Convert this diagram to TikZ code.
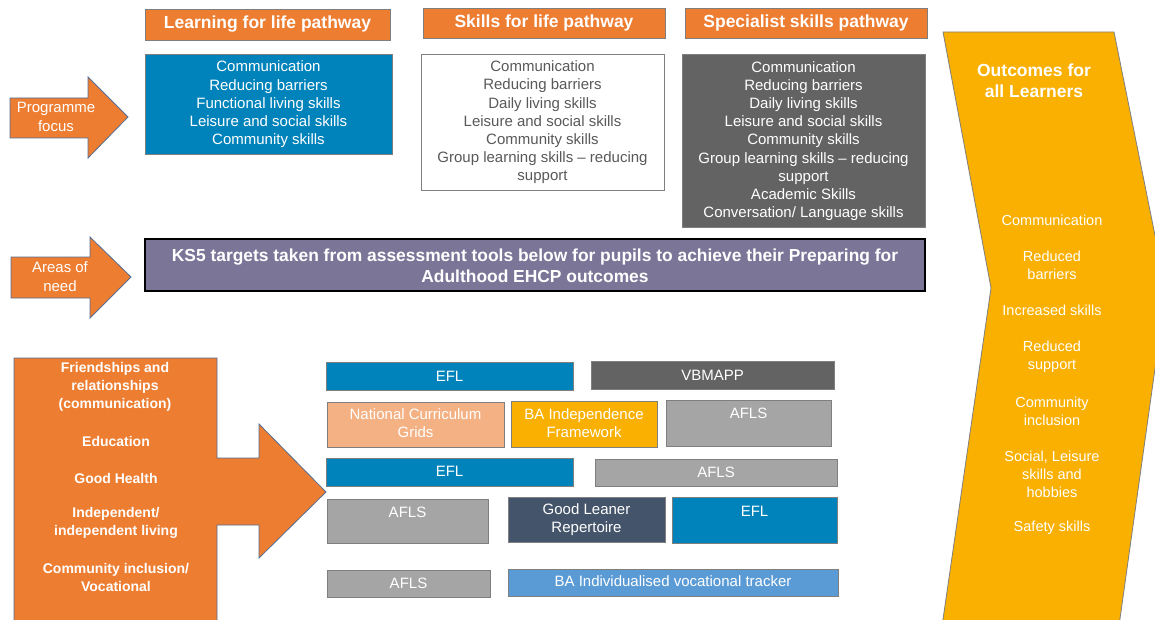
\documentclass[tikz,border=0pt]{standalone}
\usepackage{fontspec}
\setmainfont{Liberation Sans}
\definecolor{corange}{RGB}{237,125,49}
\definecolor{cblue}{RGB}{0,131,186}
\definecolor{cdgray}{RGB}{99,99,99}
\definecolor{cgray}{RGB}{165,165,165}
\definecolor{cpurple}{RGB}{123,118,152}
\definecolor{clorange}{RGB}{244,177,131}
\definecolor{camber}{RGB}{249,176,0}
\definecolor{cnavy}{RGB}{68,84,106}
\definecolor{clblue}{RGB}{91,155,213}
\definecolor{cborder}{RGB}{127,127,127}
\definecolor{carrowline}{RGB}{84,110,150}
\definecolor{ctextgray}{RGB}{89,89,89}
\newcommand\mybox[6]{\node[box,fill=#6,minimum width={#4-#2},minimum height={#5-#3}] (#1) at ({(#2+#4)/2},{(#3+#5)/2}) {};}
\begin{document}
\begin{tikzpicture}[x=1pt,y=-1pt,
  box/.style={draw=cborder,line width=0.9pt,inner sep=0pt,rectangle},
  hdr/.style={box,fill=corange,text=white,font=\fontsize{17.5}{21}\selectfont\bfseries},
  t15/.style={text=white,align=center,inner sep=0pt,font=\fontsize{15}{18.2}\selectfont},
  t14b/.style={text=white,align=center,inner sep=0pt,font=\fontsize{14}{18}\selectfont\bfseries},
  t14/.style={text=white,align=center,inner sep=0pt,font=\fontsize{14.5}{18}\selectfont},
  shapeline/.style={draw=carrowline,line width=0.8pt,fill=corange}]
\useasboundingbox (0,0) rectangle (1155,620);

% chevron and big arrow (cut by the page edge)
\begin{scope}
\clip (0,0) rectangle (1155,620);
\draw[draw=cborder,line width=0.8pt,fill=camber] (943,32) -- (1114,32) -- (1166,290) -- (1117,640) -- (940,640) -- (991,288) -- cycle;
\draw[shapeline] (14,358) -- (217,358) -- (217,458) -- (259,458) -- (259,424) -- (326,492) -- (259,558) -- (259,525) -- (217,525) -- (217,640) -- (14,640) -- cycle;
\end{scope}

% left arrows
\draw[shapeline] (10,98) -- (88,98) -- (88,77) -- (128,117) -- (88,158) -- (88,138) -- (10,138) -- cycle;
\draw[shapeline] (11,257) -- (90,257) -- (90,237) -- (131,277) -- (90,318) -- (90,298) -- (11,298) -- cycle;
\node[t15] (pf) at (56,117) {Programme\\[0.8pt]focus};
\node[t15] (an) at (60,276.5) {Areas of\\[0.8pt]need};

% headers
\node[hdr,minimum width=245,minimum height=31] (h1) at (267.5,24.5) {Learning for life pathway};
\node[hdr,minimum width=242,minimum height=30] (h2) at (544,23) {Skills for life pathway};
\node[hdr,minimum width=242,minimum height=30] (h3) at (806,23) {Specialist skills pathway};

% content boxes
\node[box,fill=cblue,minimum width=247,minimum height=100] (c1) at (268.5,104) {};
\node[t15] (c1t) at (268.5,104.5) {Communication\\Reducing barriers\\Functional living skills\\Leisure and social skills\\Community skills};
\node[box,fill=white,minimum width=243,minimum height=136] (c2) at (542.5,122) {};
\node[t15,text=ctextgray] (c2t) at (542.5,122.5) {Communication\\Reducing barriers\\Daily living skills\\Leisure and social skills\\Community skills\\Group learning skills -- reducing\\support};
\node[box,fill=cdgray,minimum width=243,minimum height=173] (c3) at (803.5,140.5) {};
\node[t15] (c3t) at (803.5,141) {Communication\\Reducing barriers\\Daily living skills\\Leisure and social skills\\Community skills\\Group learning skills -- reducing\\support\\Academic Skills\\Conversation/ Language skills};

% purple bar
\node[draw=black,line width=1.3pt,fill=cpurple,minimum width=780,minimum height=52,inner sep=0pt] (ks5) at (535,265) {};
\node[t15,font=\fontsize{17.4}{21}\selectfont\bfseries] (ks5t) at (535,265.5) {KS5 targets taken from assessment tools below for pupils to achieve their Preparing for\\Adulthood EHCP outcomes};

% big arrow texts
\node[t14b] (fr) at (115,386.5) {Friendships and\\relationships\\(communication)};
\node[t14b] (ed) at (116,441) {Education};
\node[t14b] (gh) at (116,478) {Good Health};
\node[t14b] (il) at (116,523) {Independent/\\independent living};
\node[t14b] (ci) at (116,577) {Community inclusion/\\Vocational};

% chevron texts
\node[t15,font=\fontsize{17.5}{21}\selectfont\bfseries] (oc) at (1034,81) {Outcomes for\\all Learners};
\node[t14] (o1) at (1052,220) {Communication};
\node[t14] (o2) at (1052,265) {Reduced\\barriers};
\node[t14] (o3) at (1052,310) {Increased skills};
\node[t14] (o4) at (1052,356.5) {Reduced\\support};
\node[t14] (o5) at (1052,411) {Community\\inclusion};
\node[t14] (o6) at (1052,474.5) {Social, Leisure\\skills and\\hobbies};
\node[t14] (o7) at (1052,528) {Safety skills};

% assessment boxes
\mybox{efla}{326}{362}{573}{390}{cblue}
\node[t15] (eflat) at (efla) {EFL};
\mybox{vbm}{591}{361}{834}{389}{cdgray}
\node[t15] (vbmt) at (vbm) {VBMAPP};
\mybox{ncg}{327}{402}{504}{447}{clorange}
\node[t15] (ncgt) at (415.5,423.5) {National Curriculum\\Grids};
\mybox{bai}{511}{401}{657}{447}{camber}
\node[t15] (bait) at (584,423.5) {BA Independence\\Framework};
\mybox{aflsa}{666}{400}{831}{446}{cgray}
\node[t15] (aflsat) at (748.5,413) {AFLS};
\mybox{eflb}{326}{458}{573}{486}{cblue}
\node[t15] (eflbt) at (449.5,471) {EFL};
\mybox{aflsb}{595}{459}{837}{486}{cgray}
\node[t15] (aflsbt) at (716,472) {AFLS};
\mybox{aflsc}{327}{499}{488}{543}{cgray}
\node[t15] (aflsct) at (407.5,512) {AFLS};
\mybox{glr}{508}{497}{665}{542}{cnavy}
\node[t15] (glrt) at (586.5,519.5) {Good Leaner\\Repertoire};
\mybox{eflc}{672}{497}{837}{543}{cblue}
\node[t15] (eflct) at (754.5,511) {EFL};
\mybox{aflsd}{327}{570}{490}{597}{cgray}
\node[t15] (aflsdt) at (408.5,583) {AFLS};
\mybox{bavt}{508}{569}{838}{596}{clblue}
\node[t15] (bavtt) at (673,581.5) {BA Individualised vocational tracker};
\end{tikzpicture}
\end{document}
